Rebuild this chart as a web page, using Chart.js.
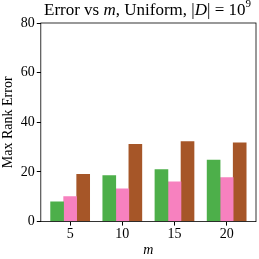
<!DOCTYPE html>
<html>
<head>
<meta charset="utf-8">
<script src="https://cdn.jsdelivr.net/npm/chart.js@4"></script>
<style>
    html, body { margin: 0; padding: 0; background: #fff; }
    #caixa { position: relative; width: 259px; height: 259px; }
    #grafico { position: absolute; left: 0; top: 0; }
    #titulo {
        position: absolute; top: 0px; left: 39px; width: 217px;
        display: flex; justify-content: center; white-space: nowrap;
        font-family: "Liberation Serif", serif; font-size: 17px; line-height: 20px; color: #000;
    }
    #titulo sup { font-size: 11px; line-height: 0; position: relative; top: -1px; }
</style>
</head>
<body>
<div id="caixa">
    <canvas id="grafico" width="259" height="259"></canvas>
    <div id="titulo"><span>Error vs <i>m</i>, Uniform, |<i>D</i>| = 10<sup>9</sup></span></div>
</div>
<script>
// dados
const categorias = ['5', '10', '15', '20'];
const serieVerde = [8, 18.5, 21, 24.8];
const serieRosa = [10.1, 13.2, 16, 17.7];
const serieMarrom = [19.1, 31.1, 32.2, 31.7];
const ticksY = [0, 20, 40, 60, 80];

const fonte = "'Liberation Serif', serif";

// moldura em volta da area do grafico (4 lados)
const moldura = {
    id: 'moldura',
    afterDatasetsDraw(chart) {
        const a = chart.chartArea;
        const ctx = chart.ctx;
        ctx.save();
        ctx.strokeStyle = '#000';
        ctx.lineWidth = 0.8;
        ctx.strokeRect(a.left, a.top, a.right - a.left, a.bottom - a.top);
        ctx.restore();
    }
};

function pontos(valores) {
    return valores.map((v, i) => ({ x: i, y: v }));
}

function serie(valores, cor) {
    return {
        data: pontos(valores),
        backgroundColor: cor,
        borderWidth: 0,
        inflateAmount: 0.3,
        categoryPercentage: 0.75,
        barPercentage: 1
    };
}

new Chart(document.getElementById('grafico'), {
    type: 'bar',
    data: {
        datasets: [
            serie(serieVerde, '#4daf4a'),
            serie(serieRosa, '#f781bf'),
            serie(serieMarrom, '#a65628')
        ]
    },
    options: {
        responsive: false,
        animation: false,
        layout: { padding: { top: 23, right: 3, left: 0, bottom: 0 } },
        plugins: { legend: { display: false }, tooltip: { enabled: false } },
        scales: {
            x: {
                type: 'linear',
                offset: false,
                min: -0.5625,
                max: 3.5625,
                afterBuildTicks: (s) => { s.ticks = categorias.map((c, i) => ({ value: i })); },
                ticks: {
                    callback: (v) => categorias[v],
                    color: '#000',
                    font: { family: fonte, size: 14, lineHeight: 1.1 },
                    padding: 1,
                    maxRotation: 0
                },
                grid: { offset: false, drawOnChartArea: false, drawTicks: true, tickLength: 4, color: '#000' },
                border: { display: false },
                title: {
                    display: true, text: 'm', color: '#000',
                    font: { family: fonte, size: 14, style: 'italic', lineHeight: 1 },
                    padding: { top: 0, bottom: 2 }
                }
            },
            y: {
                min: 0,
                max: 80,
                afterBuildTicks: (s) => { s.ticks = ticksY.map(v => ({ value: v })); },
                ticks: {
                    color: '#000',
                    font: { family: fonte, size: 14 },
                    padding: 2
                },
                grid: { drawOnChartArea: false, drawTicks: true, tickLength: 4, color: '#000' },
                border: { display: false },
                title: {
                    display: true, text: 'Max Rank Error', color: '#000',
                    font: { family: fonte, size: 14 },
                    padding: { top: 0, bottom: 2 }
                }
            }
        }
    },
    plugins: [moldura]
});
</script>
</body>
</html>
